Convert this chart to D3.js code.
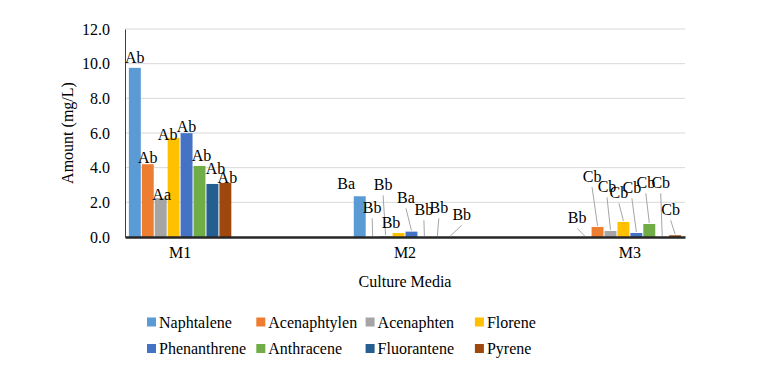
<!DOCTYPE html>
<html>
<head>
<meta charset="utf-8">
<script src="https://cdn.jsdelivr.net/npm/d3@7"></script>
<style>
  body { margin: 0; background: #fff; }
  svg, svg text { font-family: "Liberation Serif", "Tinos", "Times New Roman", "DejaVu Serif", serif; fill: #000; }
</style>
</head>
<body>
<div id="chart"></div>
<script>
// data
var categories = ["M1", "M2", "M3"];
var compounds = ["Naphtalene", "Acenaphtylen", "Acenaphten", "Florene",
                 "Phenanthrene", "Anthracene", "Fluorantene", "Pyrene"];

var naphtalene   = [9.76, 2.35, 0.00];
var acenaphtylen = [4.20, 0.00, 0.58];
var acenaphten   = [2.24, 0.05, 0.35];
var florene      = [5.72, 0.23, 0.87];
var phenanthrene = [5.99, 0.31, 0.23];
var anthracene   = [4.10, 0.00, 0.75];
var fluorantene  = [3.06, 0.00, 0.00];
var pyrene       = [3.12, 0.00, 0.10];

// significance letters per compound, one per medium
var naphtaleneSig   = ["Ab", "Ba", "Bb"];
var acenaphtylenSig = ["Ab", "Bb", "Cb"];
var acenaphtenSig   = ["Aa", "Bb", "Cb"];
var floreneSig      = ["Ab", "Bb", "Cb"];
var phenanthreneSig = ["Ab", "Ba", "Cb"];
var anthraceneSig   = ["Ab", "Bb", "Cb"];
var fluoranteneSig  = ["Ab", "Bb", "Cb"];
var pyreneSig       = ["Ab", "Bb", "Cb"];

var yTicks = [0, 2, 4, 6, 8, 10, 12];

var values = [naphtalene, acenaphtylen, acenaphten, florene,
              phenanthrene, anthracene, fluorantene, pyrene];
var letters = [naphtaleneSig, acenaphtylenSig, acenaphtenSig, floreneSig,
               phenanthreneSig, anthraceneSig, fluoranteneSig, pyreneSig];

var colors = ["#5B9BD5", "#ED7D31", "#A5A5A5", "#FFC000",
              "#4472C4", "#70AD47", "#255E91", "#9E480E"];

// label nudges [dx, dy] in px, per medium then compound (layout only)
var nudge = [
  [[0,-3],[0,1],[1,4],[-6,4],[0,1],[2,-3],[3,-8],[2,2]],
  [[-13.5,-5],[-0.5,-21.7],[-2.5,-43.8],[-7.5,-2.7],[-5.5,-26.3],[-0.5,-19.7],[1.5,-21.7],[11.5,-14.7]],
  [[-7.5,-11.7],[-5.5,-42.7],[-3.5,-36.6],[-4.5,-21.6],[-4.5,-37.7],[-3.5,-33.7],[-1.5,-46.7],[-4.5,-18]]
];

var width = 761, height = 377;
var plot = {left: 125, right: 685, top: 29, bottom: 237};
var serif = "'Liberation Serif', Tinos, 'Times New Roman', 'DejaVu Serif', serif";

var svg = d3.select("#chart").append("svg")
    .attr("width", width)
    .attr("height", height)
    .style("font-family", serif);

svg.append("rect").attr("width", width).attr("height", height).attr("fill", "white");

var x = d3.scaleBand()
    .domain(categories)
    .range([plot.left, plot.right])
    .paddingInner(0.54)
    .paddingOuter(0.015);

var xs = d3.scaleBand()
    .domain(compounds)
    .range([0, x.bandwidth()]);

var y = d3.scaleLinear()
    .domain([0, 12])
    .range([plot.bottom, plot.top]);

// gridlines
svg.append("g")
  .selectAll("line")
  .data(yTicks.slice(1))
  .enter().append("line")
    .attr("x1", plot.left).attr("x2", plot.right)
    .attr("y1", function(d){ return y(d); })
    .attr("y2", function(d){ return y(d); })
    .attr("stroke", "#D9D9D9")
    .attr("stroke-width", 1);

// y axis
var yAxis = svg.append("g")
    .attr("transform", "translate(" + plot.left + ",0)")
    .call(d3.axisLeft(y).tickValues(yTicks).tickFormat(d3.format(".1f")).tickSize(0).tickPadding(15));
yAxis.attr("font-family", null).attr("font-size", null);
yAxis.select(".domain").attr("stroke", "#404040").attr("stroke-width", 1);
yAxis.selectAll("text").style("font-size", "16px").style("font-family", serif);

// bars
var rows = [];
categories.forEach(function(c, ci){
  compounds.forEach(function(s, si){
    rows.push({cat: c, ci: ci, s: s, si: si, v: values[si][ci], lab: letters[si][ci]});
  });
});

svg.append("g")
  .selectAll("rect")
  .data(rows)
  .enter().append("rect")
    .attr("x", function(d){ return x(d.cat) + xs(d.s) + 0.5; })
    .attr("width", xs.bandwidth() - 1)
    .attr("y", function(d){ return y(d.v); })
    .attr("height", function(d){ return y(0) - y(d.v); })
    .attr("fill", function(d){ return colors[d.si]; });

// x axis
var xAxis = svg.append("g")
    .attr("transform", "translate(0," + plot.bottom + ")")
    .call(d3.axisBottom(x).tickSize(0).tickPadding(10));
xAxis.attr("font-family", null).attr("font-size", null);
xAxis.select(".domain").attr("stroke", "#262626").attr("stroke-width", 2.5);
xAxis.selectAll("text").style("font-size", "16px").style("font-family", serif);

// data labels with leader lines
var labels = svg.append("g");
rows.forEach(function(d){
  var cx = x(d.cat) + xs(d.s) + xs.bandwidth() / 2;
  var top = y(d.v);
  var n = nudge[d.ci][d.si];
  var tx = cx + n[0];
  var base = top - 2 + n[1];
  if (top - (base + 5) > 8) {
    labels.append("line")
      .attr("x1", tx).attr("y1", base + 5)
      .attr("x2", cx).attr("y2", top - 1)
      .attr("stroke", "#A6A6A6")
      .attr("stroke-width", 1);
  }
  labels.append("text")
    .attr("x", tx)
    .attr("y", base)
    .attr("text-anchor", "middle")
    .style("font-size", "16px")
    .text(d.lab);
});

// axis titles
svg.append("text")
  .attr("transform", "translate(73," + ((plot.top + plot.bottom) / 2) + ") rotate(-90)")
  .attr("text-anchor", "middle")
  .style("font-size", "16px")
  .text("Amount (mg/L)");

svg.append("text")
  .attr("x", (plot.left + plot.right) / 2)
  .attr("y", 287)
  .attr("text-anchor", "middle")
  .style("font-size", "16px")
  .text("Culture Media");

// legend
var legend = svg.append("g");
var item = legend.selectAll("g")
  .data(compounds)
  .enter().append("g")
    .attr("transform", function(d, i){
      return "translate(" + (147 + (i % 4) * 109.3) + "," + (322 + Math.floor(i / 4) * 26.5) + ")";
    });
item.append("rect")
  .attr("x", 0).attr("y", -4.5)
  .attr("width", 9).attr("height", 9)
  .attr("fill", function(d, i){ return colors[i]; });
item.append("text")
  .attr("x", 12)
  .attr("y", 5.5)
  .style("font-size", "16px")
  .text(function(d){ return d; });
</script>
</body>
</html>
